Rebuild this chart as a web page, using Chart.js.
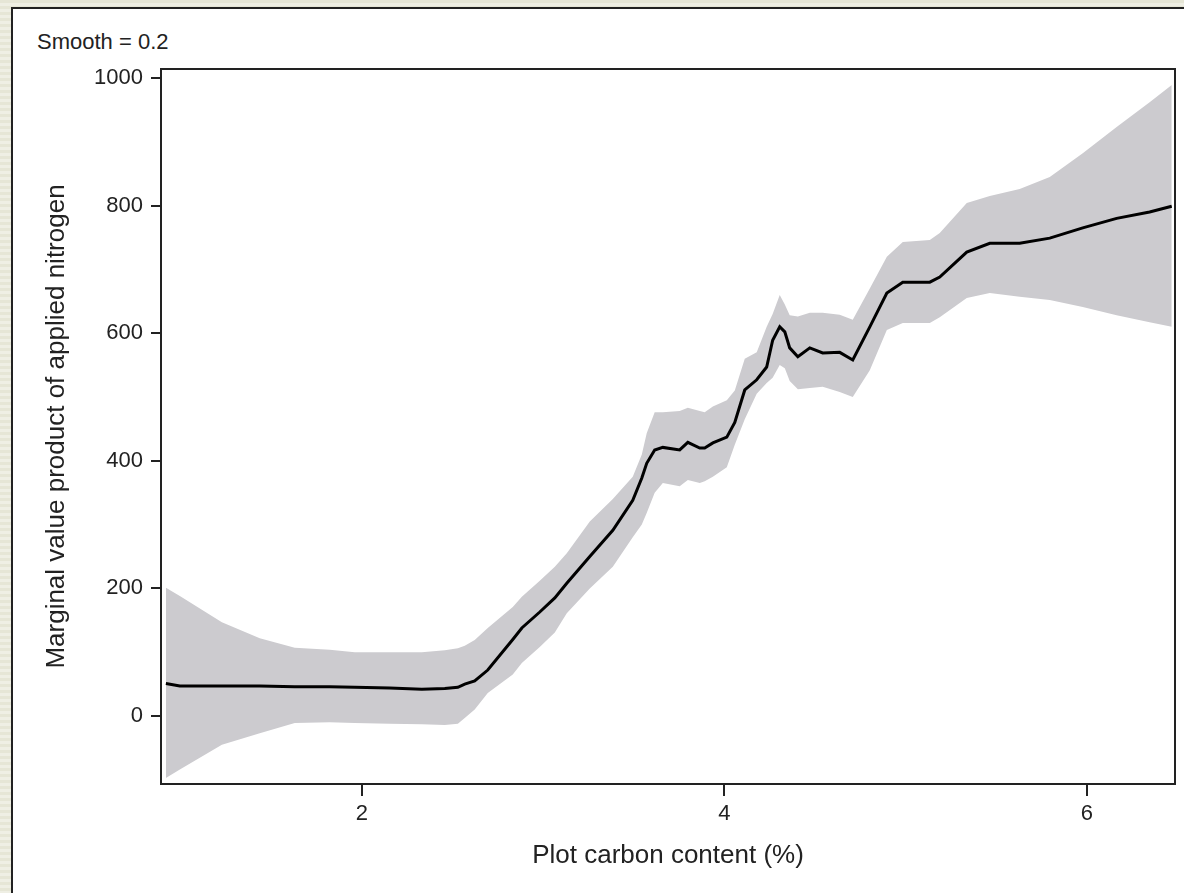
<!DOCTYPE html>
<html>
<head>
<meta charset="utf-8">
<title>Smooth = 0.2</title>
<script src="https://cdn.jsdelivr.net/npm/chart.js@4.4.1/dist/chart.umd.min.js"></script>
<style>
  html, body {
    margin: 0;
    padding: 0;
    width: 1184px;
    height: 893px;
    overflow: hidden;
    background: repeating-linear-gradient(to bottom, #e6e6d6 0px, #e6e6d6 3px, #efefe4 3px, #efefe4 6px);
  }
  #panel {
    position: absolute;
    left: 11px;
    top: 7px;
    width: 1200px;
    height: 920px;
    background: #ffffff;
    border-left: 2px solid #222222;
    border-top: 2px solid #222222;
  }
  #smooth {
    position: absolute;
    left: 37px;
    top: 29px;
    font-family: "Liberation Sans", Arial, sans-serif;
    font-size: 22px;
    line-height: 26px;
    color: #222222;
  }
  #chartBox {
    position: absolute;
    left: 0;
    top: 0;
    width: 1184px;
    height: 893px;
  }
</style>
</head>
<body>
<div id="panel"></div>
<div id="smooth">Smooth = 0.2</div>
<div id="chartBox"><canvas id="grafico" width="1184" height="893"></canvas></div>

<script>
// Carbon content (%) along the smoothed curve
const carbon = [
  0.918, 0.995, 1.227, 1.436, 1.629, 1.822, 1.960, 2.153, 2.330, 2.457,
  2.529, 2.567, 2.622, 2.694, 2.832, 2.882, 2.981, 3.064, 3.130, 3.257,
  3.384, 3.494, 3.544, 3.571, 3.615, 3.660, 3.753, 3.798, 3.864, 3.891,
  3.936, 4.013, 4.057, 4.112, 4.178, 4.233, 4.266, 4.305, 4.333, 4.360,
  4.405, 4.471, 4.542, 4.636, 4.708, 4.802, 4.896, 4.984, 5.133, 5.188,
  5.337, 5.464, 5.629, 5.795, 5.977, 6.164, 6.346, 6.468
];

// Smoothed marginal value product
const mvp = [
  51, 47, 47, 47, 46, 46, 45, 44, 42, 43,
  45, 50, 55, 72, 120, 138, 163, 185, 208, 250,
  291, 338, 373, 396, 417, 421, 417, 429, 420, 420,
  428, 437, 460, 511, 527, 547, 589, 610, 602, 577,
  563, 577, 569, 570, 558, 610, 663, 680, 680, 688,
  727, 741, 741, 749, 765, 780, 790, 799
];

// Confidence band
const upperBand = [
  201, 188, 147, 122, 107, 104, 100, 100, 100, 103,
  106, 110, 119, 138, 171, 187, 212, 234, 255, 305,
  340, 375, 410, 443, 476, 476, 478, 483, 478, 476,
  485, 495, 510, 560, 570, 610, 630, 660, 645, 628,
  626, 632, 632, 629, 621, 670, 720, 743, 746, 757,
  804, 815, 826, 845, 882, 923, 962, 989
];
const lowerBand = [
  -97, -84, -45, -27, -11, -10, -11, -12, -13, -14,
  -12, -3, 10, 36, 65, 83, 108, 131, 161, 200,
  234, 280, 300, 318, 350, 365, 360, 370, 365, 368,
  375, 390, 425, 465, 505, 522, 530, 550, 545, 525,
  512, 514, 516, 508, 500, 542, 605, 616, 616, 625,
  655, 663, 657, 652, 641, 628, 617, 610
];

const xTicks = [2, 4, 6];
const yTicks = [0, 200, 400, 600, 800, 1000];

const xRange = [0.891, 6.486];
const yRange = [-106.6, 1014.1];

document.addEventListener("DOMContentLoaded", function () {
  const ctx = document.getElementById("grafico").getContext("2d");
  const ink = "#222222";
  const fonte = "'Liberation Sans', Arial, sans-serif";

  // Utilitário: junta x e y em pontos
  function pontos(valores) {
    return carbon.map((x, i) => ({ x: x, y: valores[i] }));
  }

  // Moldura em volta da área do gráfico
  const moldura = {
    id: "moldura",
    afterDatasetsDraw(chart) {
      const a = chart.chartArea;
      const c = chart.ctx;
      c.save();
      c.strokeStyle = ink;
      c.lineWidth = 2;
      c.strokeRect(a.left, a.top, a.right - a.left, a.bottom - a.top);
      c.restore();
    },
  };

  new Chart(ctx, {
    type: "line",
    data: {
      datasets: [
        {
          label: "lower",
          data: pontos(lowerBand),
          borderWidth: 0,
          pointRadius: 0,
          fill: false,
          order: 2,
        },
        {
          label: "upper",
          data: pontos(upperBand),
          borderWidth: 0,
          pointRadius: 0,
          backgroundColor: "#cccbcf",
          fill: "-1",
          order: 1,
        },
        {
          label: "mvp",
          data: pontos(mvp),
          borderColor: "#000000",
          borderWidth: 3,
          pointRadius: 0,
          tension: 0,
          fill: false,
          order: 0,
        },
      ],
    },
    options: {
      responsive: false,
      animation: false,
      devicePixelRatio: 1,
      layout: { padding: { top: 69, right: 9, left: 0, bottom: 0 } },
      plugins: {
        legend: { display: false },
        tooltip: { enabled: false },
      },
      scales: {
        x: {
          type: "linear",
          min: xRange[0],
          max: xRange[1],
          afterBuildTicks: (s) => { s.ticks = xTicks.map((v) => ({ value: v })); },
          afterFit: (s) => { s.height = 109; },
          border: { display: false },
          grid: { drawOnChartArea: false, drawTicks: true, tickLength: 12, color: ink, lineWidth: 2 },
          ticks: {
            padding: 5,
            color: ink,
            font: { family: fonte, size: 22 },
            callback: (v) => String(v),
          },
          title: {
            display: true,
            text: "Plot carbon content (%)",
            color: ink,
            font: { family: fonte, size: 26 },
            padding: { top: 0, bottom: 22 },
          },
        },
        y: {
          type: "linear",
          min: yRange[0],
          max: yRange[1],
          afterBuildTicks: (s) => { s.ticks = yTicks.map((v) => ({ value: v })); },
          afterFit: (s) => { s.width = 161; },
          border: { display: false },
          grid: { drawOnChartArea: false, drawTicks: true, tickLength: 10, color: ink, lineWidth: 2 },
          ticks: {
            padding: 8,
            color: ink,
            font: { family: fonte, size: 22 },
            callback: (v) => String(v),
          },
          title: {
            display: true,
            text: "Marginal value product of applied nitrogen",
            color: ink,
            font: { family: fonte, size: 26 },
            padding: { top: 41, bottom: 0 },
          },
        },
      },
    },
    plugins: [moldura],
  });
});
</script>
</body>
</html>
